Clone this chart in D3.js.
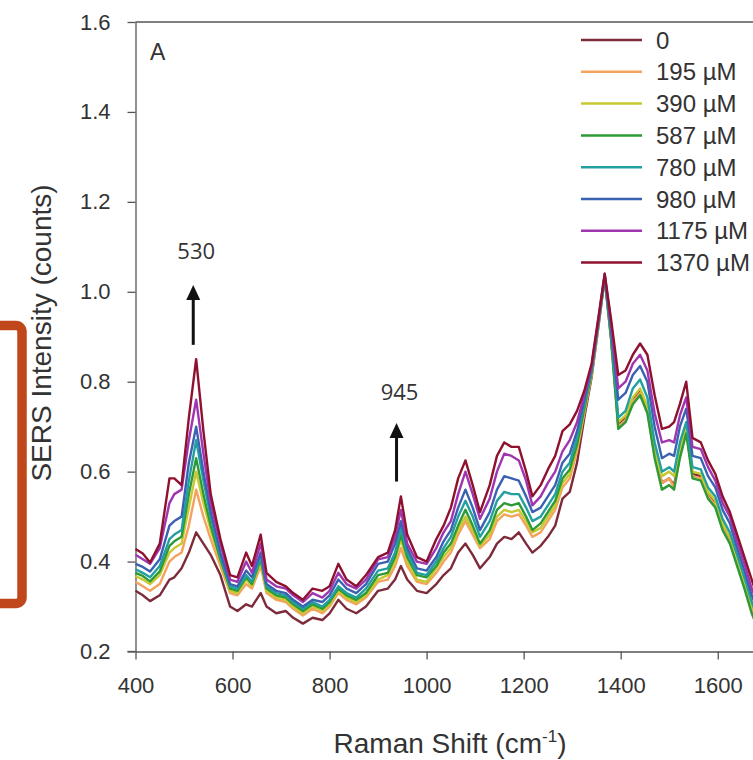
<!DOCTYPE html>
<html>
<head>
<meta charset="utf-8">
<script src="https://cdn.jsdelivr.net/npm/d3@7"></script>
<style>
  body { margin: 0; background: #fff; }
  svg { display: block; font-family: "Liberation Sans", Arial, sans-serif; }
</style>
</head>
<body>
<svg width="753" height="760"></svg>
<script>
// Raman shift sample positions (cm-1)
const shifts = [400,415,430,450,470,480,495,510,525,540,555,575,595,610,628,640,658,670,690,710,
  725,745,765,785,800,818,835,855,875,900,920,935,947,960,980,1000,1020,1035,1050,1065,
  1080,1095,1110,1130,1145,1160,1175,1190,1205,1218,1235,1250,1265,1280,1295,1310,1325,1340,1355,1367,
  1380,1395,1410,1425,1440,1455,1470,1485,1500,1510,1522,1535,1548,1565,1580,1595,1610,1625,1640,1655,
  1670,1685];

// SERS intensity, one array per concentration
const s0 = [.335,.325,.312,.325,.36,.365,.385,.42,.465,.44,
  .415,.37,.30,.29,.305,.30,.33,.30,.285,.29,
  .275,.262,.275,.27,.285,.315,.295,.285,.30,.335,
  .34,.36,.39,.36,.335,.33,.35,.37,.385,.42,
  .44,.415,.385,.41,.44,.455,.45,.465,.44,.42,
  .435,.455,.48,.54,.555,.62,.72,.81,.93,1.03,
  .90,.705,.72,.76,.78,.74,.64,.575,.585,.57,
  .64,.695,.595,.59,.55,.53,.48,.45,.40,.35,
  .295,.255];
const s195 = [.355,.345,.335,.35,.40,.41,.42,.48,.56,.50,
  .45,.39,.33,.325,.35,.34,.39,.33,.315,.31,
  .295,.28,.295,.285,.30,.33,.315,.305,.32,.355,
  .36,.39,.43,.39,.355,.35,.375,.40,.42,.46,
  .49,.46,.43,.45,.49,.505,.50,.505,.48,.455,
  .465,.49,.515,.565,.585,.645,.73,.815,.93,1.03,
  .90,.70,.715,.755,.775,.735,.635,.575,.585,.565,
  .635,.69,.59,.585,.545,.525,.475,.445,.395,.345,
  .29,.25];
const s390 = [.368,.36,.35,.37,.42,.43,.44,.52,.60,.53,
  .47,.40,.335,.33,.36,.345,.40,.335,.32,.315,
  .30,.285,.30,.29,.305,.335,.32,.31,.325,.36,
  .37,.40,.45,.40,.36,.355,.385,.41,.43,.47,
  .50,.47,.435,.46,.50,.515,.51,.515,.49,.465,
  .475,.50,.525,.575,.595,.655,.735,.82,.935,1.035,
  .905,.71,.725,.765,.785,.745,.645,.59,.60,.59,
  .65,.70,.60,.595,.555,.535,.485,.455,.405,.355,
  .30,.26];
const s587 = [.375,.368,.356,.378,.435,.445,.455,.55,.63,.55,
  .48,.405,.34,.335,.365,.35,.405,.34,.325,.32,
  .305,.29,.305,.295,.31,.34,.325,.315,.33,.37,
  .375,.41,.46,.41,.37,.365,.39,.42,.44,.48,
  .515,.48,.44,.47,.515,.53,.525,.53,.50,.47,
  .485,.51,.535,.585,.605,.66,.74,.82,.935,1.03,
  .895,.695,.71,.75,.77,.73,.63,.56,.57,.56,
  .63,.685,.585,.58,.54,.52,.47,.44,.39,.34,
  .285,.245];
const s780 = [.383,.375,.365,.39,.45,.46,.47,.58,.67,.58,
  .50,.41,.345,.34,.37,.355,.41,.345,.33,.325,
  .31,.295,.31,.30,.315,.345,.33,.32,.34,.38,
  .385,.42,.475,.42,.375,.37,.40,.43,.455,.50,
  .535,.50,.455,.49,.535,.555,.55,.55,.52,.49,
  .50,.525,.55,.60,.62,.675,.75,.825,.94,1.035,
  .91,.72,.735,.785,.805,.765,.665,.60,.61,.60,
  .665,.71,.61,.605,.565,.545,.495,.465,.415,.365,
  .31,.27];
const s980 = [.395,.388,.378,.405,.48,.49,.50,.62,.70,.60,
  .51,.42,.35,.345,.38,.365,.42,.35,.335,.33,
  .315,.30,.315,.31,.325,.36,.34,.33,.35,.395,
  .40,.44,.49,.43,.385,.38,.41,.445,.47,.52,
  .56,.52,.47,.51,.56,.59,.585,.58,.545,.51,
  .52,.545,.57,.62,.64,.69,.76,.83,.94,1.035,
  .92,.76,.775,.815,.835,.80,.70,.63,.64,.635,
  .70,.74,.635,.63,.59,.565,.515,.485,.43,.38,
  .325,.285];
const s1175 = [.415,.405,.395,.43,.53,.55,.56,.67,.76,.64,
  .53,.44,.36,.355,.40,.375,.44,.36,.345,.34,
  .325,.31,.33,.32,.335,.375,.35,.34,.36,.405,
  .41,.455,.515,.44,.40,.395,.43,.465,.49,.55,
  .60,.55,.495,.54,.60,.64,.635,.625,.58,.525,
  .545,.575,.60,.645,.67,.71,.77,.835,.945,1.04,
  .93,.785,.80,.84,.86,.825,.73,.665,.67,.665,
  .725,.765,.655,.65,.61,.58,.53,.50,.445,.395,
  .34,.30];
const s1370 = [.428,.418,.398,.44,.585,.585,.57,.72,.85,.69,
  .55,.45,.37,.365,.42,.39,.46,.375,.355,.345,
  .33,.315,.34,.335,.345,.395,.36,.345,.37,.41,
  .42,.47,.545,.46,.41,.40,.45,.48,.52,.585,
  .625,.57,.51,.57,.635,.665,.655,.655,.60,.545,
  .57,.605,.635,.69,.705,.735,.78,.84,.95,1.04,
  .94,.815,.825,.86,.885,.86,.77,.695,.70,.71,
  .75,.80,.675,.665,.625,.595,.545,.51,.46,.41,
  .36,.31];

const labels = ["0", "195 \u00b5M", "390 \u00b5M", "587 \u00b5M", "780 \u00b5M", "980 \u00b5M", "1175 \u00b5M", "1370 \u00b5M"];
const colors = ["#7d2b3b", "#f4a35e", "#c8c830", "#2e9a36", "#22a0a0", "#3b62b0", "#a035b0", "#8e1230"];
const seriesValues = [s0, s195, s390, s587, s780, s980, s1175, s1370];

const xTicks = [400, 600, 800, 1000, 1200, 1400, 1600];
const yTicks = [0.2, 0.4, 0.6, 0.8, 1.0, 1.2, 1.4, 1.6];

// peak annotations: label, shift where arrow sits, arrow base, arrow tip, label height
const peakLabels = ["530", "945"];
const peakShift = [519, 938];
const arrowFrom = [0.882, 0.578];
const arrowTo = [1.015, 0.708];
const labelAt = [1.073, 0.760];

let svg = d3.select("svg");

let x = d3.scaleLinear().domain([400, 1800]).range([135.5, 135.5 + 1400 * 0.4852]);
let y = d3.scaleLinear().domain([0.2, 1.6]).range([651.5, 22]);

// orange frame on the left
svg.append("rect")
  .attr("x", -30).attr("y", 325.5)
  .attr("width", 52).attr("height", 278)
  .attr("rx", 6)
  .attr("fill", "none")
  .attr("stroke", "#c0461b")
  .attr("stroke-width", 9.5);

// top frame line
svg.append("line")
  .attr("x1", x(400)).attr("x2", x(1800))
  .attr("y1", y(1.6)).attr("y2", y(1.6))
  .attr("stroke", "#555").attr("stroke-width", 1.3);

let xAxis = svg.append("g")
  .attr("transform", "translate(0," + y(0.2) + ")")
  .call(d3.axisBottom(x).tickValues(xTicks).tickSize(8).tickSizeOuter(0).tickPadding(18).tickFormat(d3.format("d")));

let yAxis = svg.append("g")
  .attr("transform", "translate(" + x(400) + ",0)")
  .call(d3.axisLeft(y).tickValues(yTicks).tickSize(8).tickSizeOuter(0).tickPadding(17).tickFormat(d3.format(".1f")));

[xAxis, yAxis].forEach((g) => {
  g.select(".domain").attr("stroke", "#555").attr("stroke-width", 1.3);
  g.selectAll(".tick line").attr("stroke", "#555").attr("stroke-width", 1.3);
  g.selectAll(".tick text")
    .attr("fill", "#333")
    .style("font-size", "22px")
    .style("font-family", '"Liberation Sans", Arial, sans-serif');
});

// left extension of bottom axis to the 0.2 tick
svg.append("line")
  .attr("x1", x(400) - 8).attr("x2", x(400))
  .attr("y1", y(0.2)).attr("y2", y(0.2))
  .attr("stroke", "#555").attr("stroke-width", 1.3);

// spectra
let line = d3.line()
  .x((d, i) => x(shifts[i]))
  .y((d) => y(d));

svg.append("g")
  .selectAll("path")
  .data(seriesValues)
  .enter()
  .append("path")
  .attr("d", line)
  .attr("fill", "none")
  .attr("stroke", (d, i) => colors[i])
  .attr("stroke-width", 2.4)
  .attr("stroke-linejoin", "round");

// peak arrows
peakLabels.forEach((lab, i) => {
  let px = x(peakShift[i]);
  let tip = y(arrowTo[i]);
  svg.append("line")
    .attr("x1", px).attr("x2", px)
    .attr("y1", y(arrowFrom[i])).attr("y2", tip + 10)
    .attr("stroke", "#111").attr("stroke-width", 3);
  svg.append("path")
    .attr("d", "M" + px + "," + tip + " L" + (px - 7) + "," + (tip + 15) + " L" + (px + 7) + "," + (tip + 15) + "Z")
    .attr("fill", "#111");
  svg.append("text")
    .attr("x", px + 3).attr("y", y(labelAt[i]))
    .attr("text-anchor", "middle")
    .style("font-family", '"Open Sans", sans-serif')
    .style("font-size", "22px")
    .attr("fill", "#333")
    .text(lab);
});

// panel letter
svg.append("text")
  .attr("x", 150).attr("y", 60)
  .style("font-size", "23px")
  .attr("fill", "#333")
  .text("A");

// legend
let legend = svg.append("g");
labels.forEach((lab, i) => {
  let ly = 40 + i * 31.8;
  legend.append("line")
    .attr("x1", 581).attr("x2", 642)
    .attr("y1", ly).attr("y2", ly)
    .attr("stroke", colors[i]).attr("stroke-width", 2.5);
  legend.append("text")
    .attr("x", 656).attr("y", ly)
    .attr("dy", "0.36em")
    .style("font-size", "24px")
    .attr("fill", "#333")
    .text(lab);
});

// axis titles
let xTitle = svg.append("text")
  .attr("x", 450).attr("y", 753)
  .attr("text-anchor", "middle")
  .style("font-size", "28px")
  .attr("fill", "#333");
xTitle.append("tspan").text("Raman Shift (cm");
xTitle.append("tspan").attr("dy", -11).style("font-size", "17px").text("-1");
xTitle.append("tspan").attr("dy", 11).text(")");

svg.append("text")
  .attr("transform", "translate(51,333) rotate(-90)")
  .attr("text-anchor", "middle")
  .style("font-size", "28px")
  .attr("fill", "#333")
  .text("SERS Intensity (counts)");
</script>
</body>
</html>
